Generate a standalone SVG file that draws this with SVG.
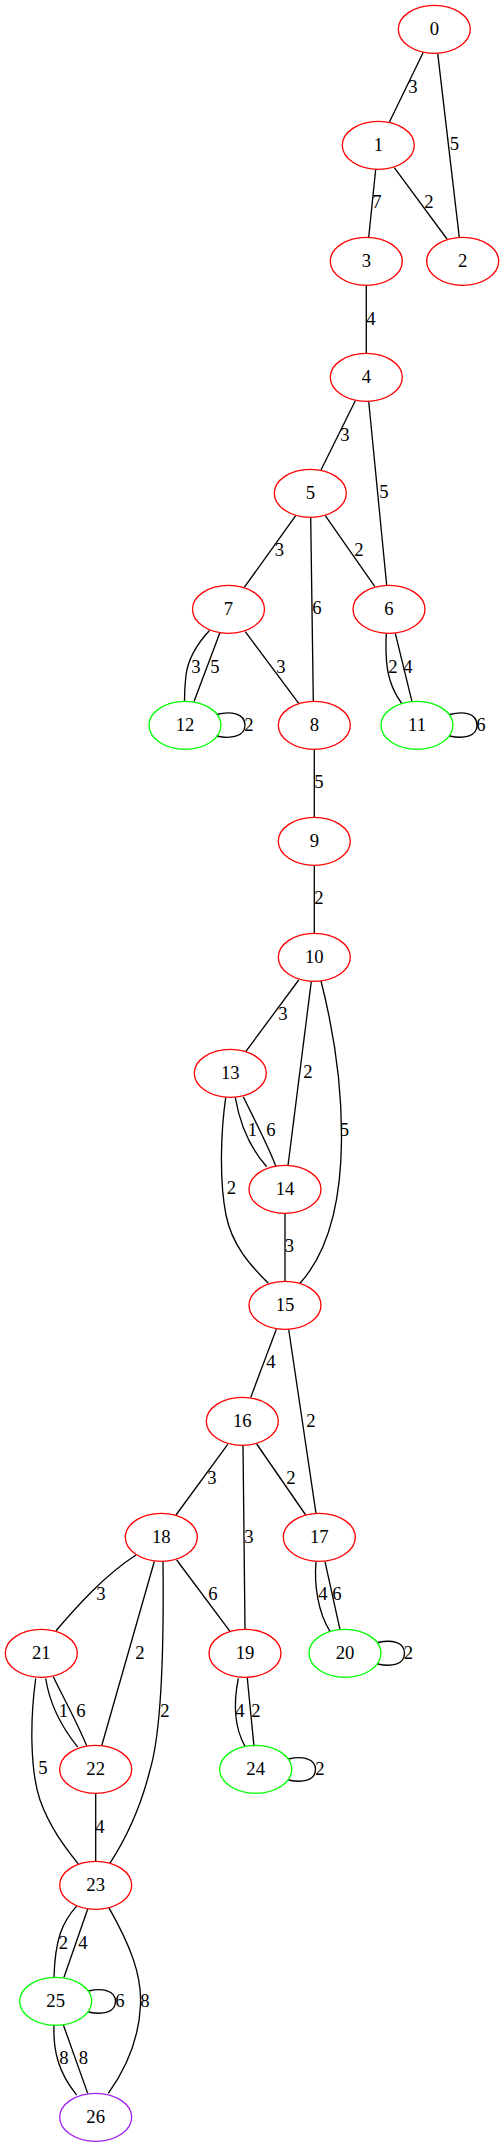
<svg xmlns="http://www.w3.org/2000/svg" width="504" height="2147" viewBox="0 0 504 2147">
<style>
.n ellipse{fill:none;stroke-width:1.33}
.r ellipse{stroke:#ff0000}
.g ellipse{stroke:#00ff00}
.p ellipse{stroke:#a020f0}
text{font-family:"Liberation Serif","Times New Roman",serif;font-size:18.67px;fill:#000;text-anchor:middle}
#edges path{fill:none;stroke:#000;stroke-width:1.33}
</style>
<rect width="504" height="2147" fill="#fff"/>
<g id="edges">
<g id="e0_1"><path d="M423.3,52.3 L389.3,122.3"/><text x="413" y="92.5">3</text></g>
<g id="e0_2"><path d="M437.7,53.3 L459.3,237.3"/><text x="454.5" y="150">5</text></g>
<g id="e1_3"><path d="M375.7,169.3 L368.7,237.3"/><text x="377" y="208.3">7</text></g>
<g id="e1_2"><path d="M394.3,167.7 L447,239"/><text x="429" y="208.3">2</text></g>
<g id="e3_4"><path d="M366.3,285.3 L366.3,353.3"/><text x="371" y="325">4</text></g>
<g id="e4_5"><path d="M355.3,400.7 L321,470"/><text x="345" y="440.5">3</text></g>
<g id="e4_6"><path d="M368.7,401.3 L386.7,585.5"/><text x="384" y="498.3">5</text></g>
<g id="e5_7"><path d="M295.7,515.7 L244.3,587.3"/><text x="279.5" y="556">3</text></g>
<g id="e5_8"><path d="M310.7,517.3 L313.3,701"/><text x="317" y="614">6</text></g>
<g id="e5_6"><path d="M325.3,515.7 L374.7,586.3"/><text x="359" y="556">2</text></g>
<g id="e7_12a"><path d="M209.5,630.5 C196,645 188,660 186,675 C184.5,688 184.5,695 184.5,701"/><text x="196" y="672.5">3</text></g>
<g id="e7_12b"><path d="M220,632.5 L194,701.5"/><text x="215" y="672.5">5</text></g>
<g id="e12_12"><path d="M216.5,714.5 C230,711 245,713 245,725.3 C245,737 230,739 216.5,736"/><text x="249" y="731">2</text></g>
<g id="e7_8"><path d="M245.3,631.7 L298.7,703.3"/><text x="281" y="672.5">3</text></g>
<g id="e6_11a"><path d="M386.3,633.3 C385.5,650 386,668 390,680 C393,690 397,697 401.7,703.3"/><text x="393" y="672.5">2</text></g>
<g id="e6_11b"><path d="M395.3,633.3 L412,701.7"/><text x="408" y="672.5">4</text></g>
<g id="e11_11"><path d="M449.5,714.5 C463,711 477,713 477,725.3 C477,737 463,739 449.5,736"/><text x="481" y="731">6</text></g>
<g id="e8_9"><path d="M314.3,749.3 L314.3,817.3"/><text x="319" y="788.3">5</text></g>
<g id="e9_10"><path d="M314.3,865.3 L314.3,933.3"/><text x="319" y="904.3">2</text></g>
<g id="e10_13"><path d="M298.7,980 L245.7,1051.7"/><text x="283" y="1020">3</text></g>
<g id="e10_14"><path d="M311.3,981.3 L288,1165.5"/><text x="308" y="1078.3">2</text></g>
<g id="e10_15"><path d="M321,981 C336,1040 342,1090 341.5,1140 C341,1200 330,1250 300,1283.3"/><text x="344.5" y="1136">5</text></g>
<g id="e13_14a"><path d="M235.3,1097.7 C240,1125 250,1148 266.7,1166.7"/><text x="252.5" y="1136">1</text></g>
<g id="e13_14b"><path d="M243.3,1096.7 C252,1115 268,1145 276,1166.7"/><text x="271" y="1136">6</text></g>
<g id="e13_15"><path d="M225.7,1097.7 C221,1130 219,1180 226,1215 C232,1245 250,1265 268.3,1283.3"/><text x="231.5" y="1194.3">2</text></g>
<g id="e14_15"><path d="M285,1213.3 L285,1281.3"/><text x="289.5" y="1252">3</text></g>
<g id="e15_16"><path d="M276.3,1329.3 L250.7,1397.5"/><text x="271" y="1368.3">4</text></g>
<g id="e15_17"><path d="M288.7,1329.5 L316,1513.3"/><text x="311" y="1426.5">2</text></g>
<g id="e16_18"><path d="M227.7,1444.3 L176,1515"/><text x="212" y="1484.3">3</text></g>
<g id="e16_19"><path d="M243,1445.3 L245,1629.3"/><text x="249" y="1542.5">3</text></g>
<g id="e16_17"><path d="M256.7,1444 L305.7,1515"/><text x="291" y="1484.3">2</text></g>
<g id="e18_21"><path d="M136,1555 C105,1575 78,1605 56,1630.7"/><text x="101" y="1600">3</text></g>
<g id="e18_22"><path d="M154.3,1561.5 L101.7,1745.7"/><text x="140" y="1658.5">2</text></g>
<g id="e18_23"><path d="M163,1561.7 C164,1650 162,1730 150,1770 C140,1810 125,1840 110,1863.2"/><text x="165" y="1716.5">2</text></g>
<g id="e18_19"><path d="M176.7,1560 L230,1631.4"/><text x="213" y="1600">6</text></g>
<g id="e17_20a"><path d="M316,1561.7 C314,1585 318,1612 330,1631.4"/><text x="323" y="1600">4</text></g>
<g id="e17_20b"><path d="M325,1561.7 L340,1629.6"/><text x="337" y="1600">6</text></g>
<g id="e20_20"><path d="M377.7,1642.5 C391,1639.5 404.5,1641.5 404.5,1653.3 C404.5,1665 391,1667 377.7,1664"/><text x="408.5" y="1658.5">2</text></g>
<g id="e21_22a"><path d="M45.7,1678.5 C49,1700 60,1725 77.7,1747.1"/><text x="63.5" y="1716.5">1</text></g>
<g id="e21_22b"><path d="M53.3,1676.7 C62,1695 76,1720 86.7,1745.7"/><text x="81" y="1716.5">6</text></g>
<g id="e21_23"><path d="M35.7,1678.5 C30,1720 30,1770 40,1800 C50,1828 65,1847 78.3,1864"/><text x="43" y="1774.3">5</text></g>
<g id="e19_24a"><path d="M238.3,1678.5 C234,1700 233,1725 245,1746.4"/><text x="240" y="1716.5">4</text></g>
<g id="e19_24b"><path d="M247.3,1678 L254,1746.4"/><text x="256" y="1716.5">2</text></g>
<g id="e24_24"><path d="M288.5,1759 C302,1756 315.5,1758 315.5,1769.3 C315.5,1781 302,1783 288.5,1780"/><text x="320" y="1774.5">2</text></g>
<g id="e22_23"><path d="M95.7,1793.3 L95.7,1861.3"/><text x="100" y="1832.5">4</text></g>
<g id="e23_25a"><path d="M76.7,1906.1 C62,1922 55,1940 54,1977.3"/><text x="63.5" y="1948.5">2</text></g>
<g id="e23_25b"><path d="M87.7,1909 L64,1977.3"/><text x="83" y="1948.5">4</text></g>
<g id="e23_26"><path d="M109,1907.9 C130,1945 142,1975 140.5,2005 C139,2040 125,2070 108.3,2093.4"/><text x="145" y="2006.5">8</text></g>
<g id="e25_25"><path d="M88.5,1991 C102,1988 115.5,1990 115.5,2001.3 C115.5,2013 102,2015 88.5,2012"/><text x="120" y="2006.5">6</text></g>
<g id="e25_26a"><path d="M54,2024.7 C53,2050 58,2072 76.7,2095.1"/><text x="64" y="2064">8</text></g>
<g id="e25_26b"><path d="M63.3,2024.7 L87.7,2093.4"/><text x="83.5" y="2064">8</text></g>
</g>
<g id="nodes">
<g id="node0" class="n r"><ellipse cx="434.3" cy="29.3" rx="36" ry="24"/><text x="434.3" y="34.9">0</text></g>
<g id="node1" class="n r"><ellipse cx="378.3" cy="145.3" rx="36" ry="24"/><text x="378.3" y="150.9">1</text></g>
<g id="node3" class="n r"><ellipse cx="366.3" cy="261.3" rx="36" ry="24"/><text x="366.3" y="266.9">3</text></g>
<g id="node2" class="n r"><ellipse cx="462.7" cy="261.3" rx="36" ry="24"/><text x="462.7" y="266.9">2</text></g>
<g id="node4" class="n r"><ellipse cx="366.3" cy="377.3" rx="36" ry="24"/><text x="366.3" y="382.9">4</text></g>
<g id="node5" class="n r"><ellipse cx="310.3" cy="493.3" rx="36" ry="24"/><text x="310.3" y="498.9">5</text></g>
<g id="node7" class="n r"><ellipse cx="228.5" cy="609.3" rx="36" ry="24"/><text x="228.5" y="614.9">7</text></g>
<g id="node6" class="n r"><ellipse cx="389" cy="609.3" rx="36" ry="24"/><text x="389" y="614.9">6</text></g>
<g id="node12" class="n g"><ellipse cx="185" cy="725.3" rx="36" ry="24"/><text x="185" y="730.9">12</text></g>
<g id="node8" class="n r"><ellipse cx="314.3" cy="725.3" rx="36" ry="24"/><text x="314.3" y="730.9">8</text></g>
<g id="node11" class="n g"><ellipse cx="417" cy="725.3" rx="36" ry="24"/><text x="417" y="730.9">11</text></g>
<g id="node9" class="n r"><ellipse cx="314.3" cy="841.3" rx="36" ry="24"/><text x="314.3" y="846.9">9</text></g>
<g id="node10" class="n r"><ellipse cx="314.3" cy="957.3" rx="36" ry="24"/><text x="314.3" y="962.9">10</text></g>
<g id="node13" class="n r"><ellipse cx="230.3" cy="1073.3" rx="36" ry="24"/><text x="230.3" y="1078.9">13</text></g>
<g id="node14" class="n r"><ellipse cx="285" cy="1189.3" rx="36" ry="24"/><text x="285" y="1194.9">14</text></g>
<g id="node15" class="n r"><ellipse cx="285" cy="1305.3" rx="36" ry="24"/><text x="285" y="1310.9">15</text></g>
<g id="node16" class="n r"><ellipse cx="242.3" cy="1421.3" rx="36" ry="24"/><text x="242.3" y="1426.9">16</text></g>
<g id="node18" class="n r"><ellipse cx="161.3" cy="1537.3" rx="36" ry="24"/><text x="161.3" y="1542.9">18</text></g>
<g id="node17" class="n r"><ellipse cx="319.3" cy="1537.3" rx="36" ry="24"/><text x="319.3" y="1542.9">17</text></g>
<g id="node21" class="n r"><ellipse cx="41.3" cy="1653.3" rx="36" ry="24"/><text x="41.3" y="1658.9">21</text></g>
<g id="node19" class="n r"><ellipse cx="245" cy="1653.3" rx="36" ry="24"/><text x="245" y="1658.9">19</text></g>
<g id="node20" class="n g"><ellipse cx="345" cy="1653.3" rx="36" ry="24"/><text x="345" y="1658.9">20</text></g>
<g id="node22" class="n r"><ellipse cx="95.7" cy="1769.3" rx="36" ry="24"/><text x="95.7" y="1774.9">22</text></g>
<g id="node24" class="n g"><ellipse cx="255.7" cy="1769.3" rx="36" ry="24"/><text x="255.7" y="1774.9">24</text></g>
<g id="node23" class="n r"><ellipse cx="95.7" cy="1885.3" rx="36" ry="24"/><text x="95.7" y="1890.9">23</text></g>
<g id="node25" class="n g"><ellipse cx="55.7" cy="2001.3" rx="36" ry="24"/><text x="55.7" y="2006.9">25</text></g>
<g id="node26" class="n p"><ellipse cx="95.7" cy="2117.3" rx="36" ry="24"/><text x="95.7" y="2122.9">26</text></g>
</g>
</svg>
